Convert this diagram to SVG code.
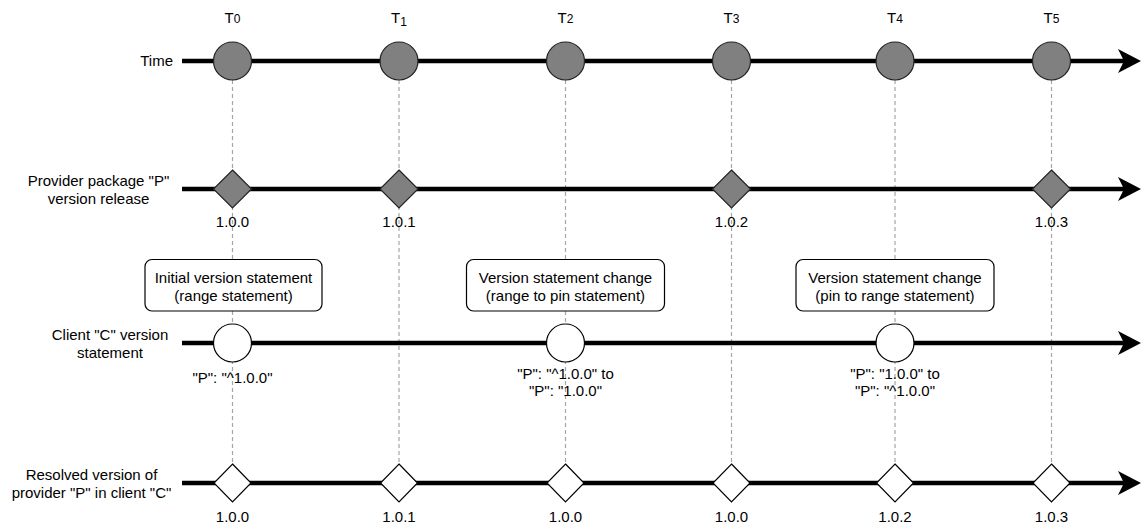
<svg xmlns="http://www.w3.org/2000/svg" width="1143" height="526" viewBox="0 0 1143 526">
<style>
text{font-family:"Liberation Sans",Arial,sans-serif;font-size:15px;fill:#000}
.m{text-anchor:middle}
.e{text-anchor:end}
.axis{stroke:#000;stroke-width:4.5;fill:none}
.dash{stroke:#a6a6a6;stroke-width:1.2;stroke-dasharray:4 3;fill:none}
.g{fill:#808080;stroke:#222;stroke-width:1.2}
.w{fill:#fff;stroke:#000;stroke-width:1.2}
.box{fill:#fff;stroke:#000;stroke-width:1.2}
.sm{font-size:12px}
</style>
<defs>
<marker id="ah" markerUnits="userSpaceOnUse" viewBox="0 0 24 24" refX="6" refY="12" markerWidth="24" markerHeight="24" orient="auto">
<path d="M23,12 L0,0 L6,12 L0,24 Z" fill="#000"/>
</marker>
</defs>
<g id="guides">
<line class="dash" x1="232.5" y1="80" x2="232.5" y2="464"/>
<line class="dash" x1="399" y1="80" x2="399" y2="464"/>
<line class="dash" x1="565.5" y1="80" x2="565.5" y2="464"/>
<line class="dash" x1="731.5" y1="80" x2="731.5" y2="464"/>
<line class="dash" x1="895" y1="80" x2="895" y2="464"/>
<line class="dash" x1="1051.5" y1="80" x2="1051.5" y2="464"/>
</g>
<g id="connectors">
<line class="axis" x1="182" y1="61" x2="1124" y2="61" marker-end="url(#ah)"/>
<line class="axis" x1="182" y1="189" x2="1124" y2="189" marker-end="url(#ah)"/>
<line class="axis" x1="182" y1="343" x2="1124" y2="343" marker-end="url(#ah)"/>
<line class="axis" x1="182" y1="483" x2="1124" y2="483" marker-end="url(#ah)"/>
</g>
<g id="row-labels">
<text class="e" x="173" y="66">Time</text>
<text class="m" x="98.5" y="186">Provider package "P"</text>
<text class="m" x="98.5" y="204">version release</text>
<text class="m" x="110" y="340">Client "C" version</text>
<text class="m" x="110" y="358">statement</text>
<text class="m" x="91.5" y="480">Resolved version of</text>
<text class="m" x="91.5" y="498">provider "P" in client "C"</text>
</g>
<g id="time-labels">
<text class="m" x="232.5" y="23">T<tspan class="sm">0</tspan></text>
<text class="m" x="399" y="23">T<tspan class="sm" dy="3">1</tspan></text>
<text class="m" x="565.5" y="23">T<tspan class="sm">2</tspan></text>
<text class="m" x="731.5" y="23">T<tspan class="sm">3</tspan></text>
<text class="m" x="895" y="23">T<tspan class="sm">4</tspan></text>
<text class="m" x="1051.5" y="23">T<tspan class="sm">5</tspan></text>
</g>
<g id="t0"><circle class="g" cx="232.5" cy="61" r="19"/></g>
<g id="t1"><circle class="g" cx="399" cy="61" r="19"/></g>
<g id="t2"><circle class="g" cx="565.5" cy="61" r="19"/></g>
<g id="t3"><circle class="g" cx="731.5" cy="61" r="19"/></g>
<g id="t4"><circle class="g" cx="895" cy="61" r="19"/></g>
<g id="t5"><circle class="g" cx="1051.5" cy="61" r="19"/></g>
<g id="p100"><path class="g" d="M232.5,170 L251.5,189 L232.5,208 L213.5,189 Z"/><text class="m" x="232.5" y="227">1.0.0</text></g>
<g id="p101"><path class="g" d="M399,170 L418,189 L399,208 L380,189 Z"/><text class="m" x="399" y="227">1.0.1</text></g>
<g id="p102"><path class="g" d="M731.5,170 L750.5,189 L731.5,208 L712.5,189 Z"/><text class="m" x="731.5" y="227">1.0.2</text></g>
<g id="p103"><path class="g" d="M1051.5,170 L1070.5,189 L1051.5,208 L1032.5,189 Z"/><text class="m" x="1051.5" y="227">1.0.3</text></g>
<g id="note0"><rect class="box" x="145" y="259.5" width="177" height="51.5" rx="7"/><text class="m" x="233.5" y="283">Initial version statement</text><text class="m" x="233.5" y="301">(range statement)</text></g>
<g id="note2"><rect class="box" x="466.5" y="259.5" width="198" height="51.5" rx="7"/><text class="m" x="565.5" y="283">Version statement change</text><text class="m" x="565.5" y="301">(range to pin statement)</text></g>
<g id="note4"><rect class="box" x="796" y="259.5" width="198" height="51.5" rx="7"/><text class="m" x="895" y="283">Version statement change</text><text class="m" x="895" y="301">(pin to range statement)</text></g>
<g id="c0"><circle class="w" cx="232.5" cy="343" r="19"/><text class="m" x="232.5" y="383">"P": "^1.0.0"</text></g>
<g id="c2"><circle class="w" cx="565.5" cy="343" r="19"/><text class="m" x="565.5" y="378.5">"P": "^1.0.0" to</text><text class="m" x="565.5" y="396">"P": "1.0.0"</text></g>
<g id="c4"><circle class="w" cx="895" cy="343" r="19"/><text class="m" x="895" y="378.5">"P": "1.0.0" to</text><text class="m" x="895" y="396">"P": "^1.0.0"</text></g>
<g id="r0"><path class="w" d="M232.5,464 L251,483 L232.5,502 L214,483 Z"/><text class="m" x="232.5" y="522">1.0.0</text></g>
<g id="r1"><path class="w" d="M399,464 L417.5,483 L399,502 L380.5,483 Z"/><text class="m" x="399" y="522">1.0.1</text></g>
<g id="r2"><path class="w" d="M565.5,464 L584,483 L565.5,502 L547,483 Z"/><text class="m" x="565.5" y="522">1.0.0</text></g>
<g id="r3"><path class="w" d="M731.5,464 L750,483 L731.5,502 L713,483 Z"/><text class="m" x="731.5" y="522">1.0.0</text></g>
<g id="r4"><path class="w" d="M895,464 L913.5,483 L895,502 L876.5,483 Z"/><text class="m" x="895" y="522">1.0.2</text></g>
<g id="r5"><path class="w" d="M1051.5,464 L1070,483 L1051.5,502 L1033,483 Z"/><text class="m" x="1051.5" y="522">1.0.3</text></g>
</svg>
